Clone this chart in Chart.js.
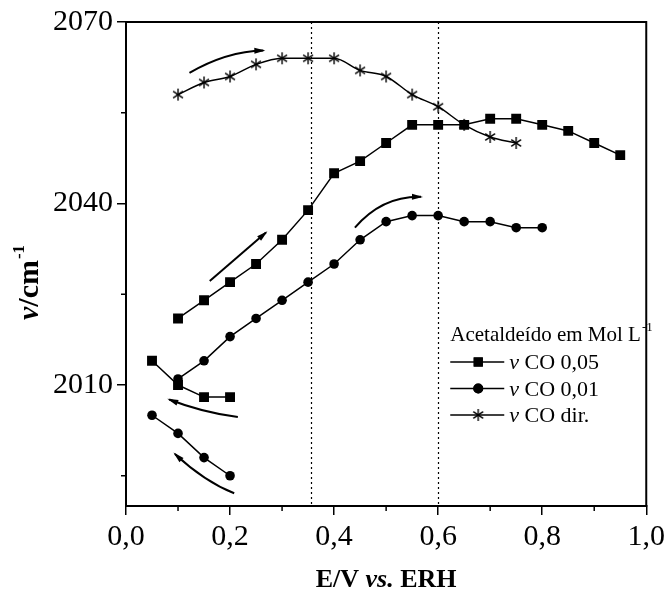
<!DOCTYPE html>
<html><head><meta charset="utf-8">
<script src="https://cdn.jsdelivr.net/npm/chart.js@4"></script>
<style>html,body{margin:0;padding:0;background:#fff}#wrap{width:669px;height:594px}</style>
</head><body><div id="wrap"><canvas id="c" width="669" height="594"></canvas></div>
<script>
// ---- data (E / V vs ERH ; wavenumber / cm-1) ----
const eSq05Fwd = [0.10,0.15,0.20,0.25,0.30,0.35,0.40,0.45,0.50,0.55,0.60,0.65,0.70,0.75,0.80,0.85,0.90,0.95];
const vSq05Fwd = [2021,2024,2027,2030,2034,2038.9,2045,2047,2050,2053,2053,2053,2054,2054,2053,2052,2050,2048];
const eSq05Rev = [0.05,0.10,0.15,0.20];
const vSq05Rev = [2014,2010,2008,2008];
const eCi01Fwd = [0.10,0.15,0.20,0.25,0.30,0.35,0.40,0.45,0.50,0.55,0.60,0.65,0.70,0.75,0.80];
const vCi01Fwd = [2011,2014,2018,2021,2024,2027,2030,2034,2037,2038,2038,2037,2037,2036,2036];
const eCi01Rev = [0.05,0.10,0.15,0.20];
const vCi01Rev = [2005,2002,1998,1995];
const eDir = [0.10,0.15,0.20,0.25,0.30,0.35,0.40,0.45,0.50,0.55,0.60,0.65,0.70,0.75];
const vDir = [2058,2060,2061,2063,2064,2064,2064,2062,2061,2058,2056,2053,2051,2050];
const xTicks = [0,0.2,0.4,0.6,0.8,1.0];
const xMinor = [0.1,0.3,0.5,0.7,0.9];
const yTicks = [2010,2040,2070];
const yMinor = [1995,2025,2055];
const refLines = [0.355,0.6];
const legendTitle = 'Acetaldeído em Mol L';
const legendLabels = ['CO 0,05','CO 0,01','CO dir.'];
// arrows (data space: start, middle, end)
const arrows = [
  [[0.122,2061.6],[0.193,2064.3],[0.264,2065.3]],
  [[0.161,2027.2],[0.215,2031.2],[0.269,2035.2]],
  [[0.440,2036.0],[0.498,2039.9],[0.567,2041.1]],
  [[0.215,2004.7],[0.148,2005.8],[0.083,2007.6]],
  [[0.208,1992.1],[0.151,1994.7],[0.094,1998.6]]
];

const SERIF = '"Liberation Serif","Times New Roman",serif';
const pts = (xs, ys) => xs.map((x,i)=>({x, y: ys[i]}));

function makeStar(r){
  const c = document.createElement('canvas');
  const s = 2*Math.ceil(r)+2;
  c.width = s; c.height = s;
  const g = c.getContext('2d');
  g.strokeStyle = '#000'; g.lineWidth = 1.4;
  const cx = s/2, cy = s/2;
  [90,35,145].forEach(a=>{
    const t = a*Math.PI/180;
    g.beginPath();
    g.moveTo(cx - r*Math.cos(t), cy - r*Math.sin(t));
    g.lineTo(cx + r*Math.cos(t), cy + r*Math.sin(t));
    g.stroke();
  });
  return c;
}
const starImg = makeStar(6);

const base = {borderColor:'#000', backgroundColor:'#000', borderWidth:1.5, pointBorderColor:'#000', pointBackgroundColor:'#000', tension:0, showLine:true};
const datasets = [
  Object.assign({}, base, {label:'sqF', data:pts(eSq05Fwd,vSq05Fwd), pointStyle:'rect', pointRadius:7, pointBorderWidth:0}),
  Object.assign({}, base, {label:'sqR', data:pts(eSq05Rev,vSq05Rev), pointStyle:'rect', pointRadius:7, pointBorderWidth:0}),
  Object.assign({}, base, {label:'ciF', data:pts(eCi01Fwd,vCi01Fwd), pointStyle:'circle', pointRadius:4.8, pointBorderWidth:0}),
  Object.assign({}, base, {label:'ciR', data:pts(eCi01Rev,vCi01Rev), pointStyle:'circle', pointRadius:4.8, pointBorderWidth:0}),
  Object.assign({}, base, {label:'dir', data:pts(eDir,vDir), pointStyle:starImg, pointRadius:6, cubicInterpolationMode:'monotone'})
];

const comma = v => Number(v).toFixed(1).replace('.', ',');

const decor = {
  id:'decor',
  beforeDatasetsDraw(chart){
    const {ctx, chartArea:a, scales:{x}} = chart;
    ctx.save();
    ctx.strokeStyle = '#000'; ctx.lineWidth = 1.2; ctx.setLineDash([2,3]);
    refLines.forEach(v=>{
      const px = Math.round(x.getPixelForValue(v))+0.5;
      ctx.beginPath(); ctx.moveTo(px, a.top); ctx.lineTo(px, a.bottom); ctx.stroke();
    });
    ctx.restore();
  },
  afterDraw(chart){
    const {ctx, chartArea:a, scales:{x,y}} = chart;
    ctx.save();
    // frame
    ctx.strokeStyle = '#000'; ctx.lineWidth = 2;
    ctx.strokeRect(a.left, a.top, a.right-a.left, a.bottom-a.top);
    // minor ticks
    ctx.lineWidth = 1.5;
    xMinor.forEach(v=>{ const px = x.getPixelForValue(v); ctx.beginPath(); ctx.moveTo(px,a.bottom); ctx.lineTo(px,a.bottom+5); ctx.stroke(); });
    yMinor.forEach(v=>{ const py = y.getPixelForValue(v); ctx.beginPath(); ctx.moveTo(a.left,py); ctx.lineTo(a.left-5,py); ctx.stroke(); });
    // arrows
    ctx.lineWidth = 2; ctx.fillStyle = '#000';
    arrows.forEach(ar=>{
      const P = ar.map(p=>[x.getPixelForValue(p[0]), y.getPixelForValue(p[1])]);
      const cp = [2*P[1][0]-(P[0][0]+P[2][0])/2, 2*P[1][1]-(P[0][1]+P[2][1])/2];
      ctx.beginPath(); ctx.moveTo(P[0][0],P[0][1]); ctx.quadraticCurveTo(cp[0],cp[1],P[2][0],P[2][1]); ctx.stroke();
      const ang = Math.atan2(P[2][1]-cp[1], P[2][0]-cp[0]);
      const L = 9, W = 3;
      ctx.beginPath();
      ctx.moveTo(P[2][0]+2*Math.cos(ang), P[2][1]+2*Math.sin(ang));
      ctx.lineTo(P[2][0]-L*Math.cos(ang)+W*Math.sin(ang), P[2][1]-L*Math.sin(ang)-W*Math.cos(ang));
      ctx.lineTo(P[2][0]-L*Math.cos(ang)-W*Math.sin(ang), P[2][1]-L*Math.sin(ang)+W*Math.cos(ang));
      ctx.closePath(); ctx.fill();
    });
    // legend
    ctx.fillStyle = '#000'; ctx.textBaseline = 'alphabetic'; ctx.textAlign = 'left';
    const lx = a.right - 196, ly = a.top + 319;
    ctx.font = '21px ' + SERIF;
    ctx.fillText(legendTitle, lx, ly);
    const tw = ctx.measureText(legendTitle).width;
    ctx.font = '13px ' + SERIF;
    ctx.fillText('-1', tw + lx + 1, ly - 10);
    const marks = [datasets[0], datasets[2], datasets[4]];
    legendLabels.forEach((lab,i)=>{
      const cy = ly + 21 + i*26.5;
      ctx.lineWidth = 1.5; ctx.strokeStyle = '#000';
      ctx.beginPath(); ctx.moveTo(lx, cy); ctx.lineTo(lx+54, cy); ctx.stroke();
      const d = marks[i];
      Chart.helpers.drawPoint(ctx, {pointStyle:d.pointStyle, radius: d.pointStyle==='rect'?6.5:(d.pointStyle==='circle'?5:d.pointRadius), borderWidth:0}, lx+28, cy);
      if (d.pointStyle==='rect' || d.pointStyle==='circle') ctx.fill();
      ctx.font = 'italic 22px ' + SERIF;
      ctx.fillText('ν', lx+59, cy+7);
      const nw = ctx.measureText('ν ').width;
      ctx.font = '22px ' + SERIF;
      ctx.fillText(lab, lx+59+nw, cy+7);
    });
    // x title
    const parts = [['bold 26px '+SERIF,'E/V '],['bold italic 26px '+SERIF,'vs.'],['bold 26px '+SERIF,' ERH']];
    let tot = 0; parts.forEach(p=>{ctx.font=p[0]; tot += ctx.measureText(p[1]).width;});
    let sx = (a.left+a.right)/2 - tot/2;
    parts.forEach(p=>{ctx.font=p[0]; ctx.fillText(p[1], sx, a.bottom+81); sx += ctx.measureText(p[1]).width;});
    // y title
    ctx.translate(38, a.top + 298);
    ctx.rotate(-Math.PI/2);
    ctx.font = 'bold italic 30px ' + SERIF; ctx.fillText('ν', 0, 0);
    let w = ctx.measureText('ν').width;
    ctx.font = 'bold 30px ' + SERIF; ctx.fillText('/cm', w, 0);
    w += ctx.measureText('/cm').width;
    ctx.font = 'bold 17px ' + SERIF; ctx.fillText('-1', w+1, -14);
    ctx.restore();
  }
};

new Chart(document.getElementById('c'), {
  type:'line',
  data:{datasets},
  options:{
    responsive:false, animation:false, devicePixelRatio:1,
    layout:{padding:{left:54, right:20, top:22, bottom:40}},
    plugins:{legend:{display:false}, tooltip:{enabled:false}},
    scales:{
      x:{type:'linear', min:0, max:1,
        afterBuildTicks: s => { s.ticks = xTicks.map(v=>({value:v})); },
        afterFit: s => { s.height = 48; },
        ticks:{font:{family:SERIF, size:30}, color:'#000', padding:4, maxRotation:0, autoSkip:false, callback: v => comma(v)},
        grid:{drawOnChartArea:false, drawTicks:true, tickLength:9, color:'#000', lineWidth:1.5},
        border:{display:true, color:'#000', width:2}
      },
      y:{type:'linear', min:1990, max:2070,
        afterBuildTicks: s => { s.ticks = yTicks.map(v=>({value:v})); },
        afterFit: s => { s.width = 72; },
        ticks:{font:{family:SERIF, size:30}, color:'#000', padding:4, autoSkip:false, callback: v => String(v)},
        grid:{drawOnChartArea:false, drawTicks:true, tickLength:9, color:'#000', lineWidth:1.5},
        border:{display:true, color:'#000', width:2}
      }
    }
  },
  plugins:[decor]
});
</script></body></html>
